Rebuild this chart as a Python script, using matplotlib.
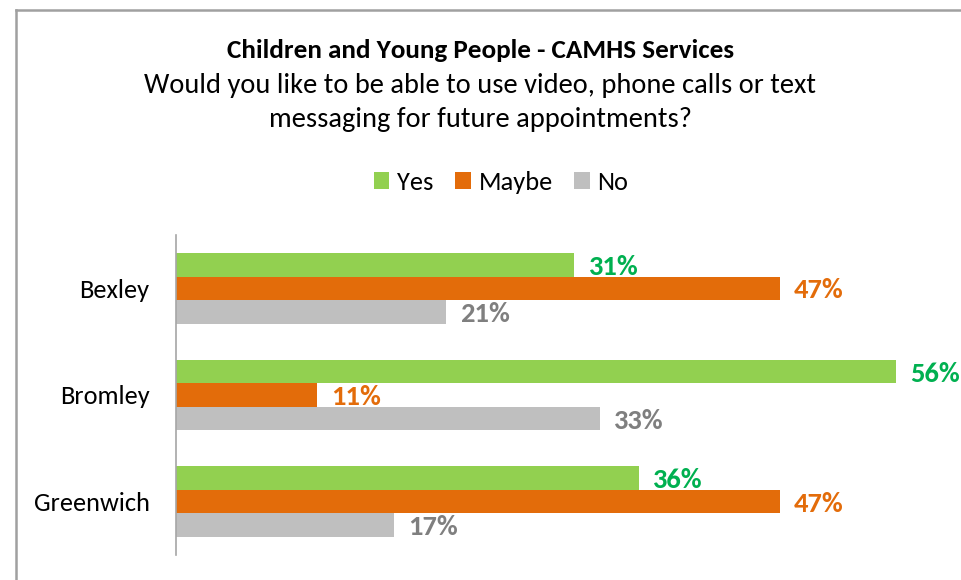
import matplotlib
import matplotlib.pyplot as plt
import numpy as np
from matplotlib.lines import Line2D

matplotlib.use("Agg")

# Chart data
areas = ["Bexley", "Bromley", "Greenwich"]
yes_vals = [0.31, 0.56, 0.36]
maybe_vals = [0.47, 0.11, 0.47]
no_vals = [0.21, 0.33, 0.17]

series_names = ["Yes", "Maybe", "No"]
bar_colours = ["#92d050", "#e36c0a", "#bfbfbf"]
label_colours = ["#00b050", "#e36c0a", "#7f7f7f"]

plt.rcParams["font.family"] = ["Carlito", "Lato", "DejaVu Sans"]

fig = plt.figure(figsize=(9.61, 5.8), dpi=100)
ax = fig.add_axes([176 / 961, 25 / 580, (947 - 176) / 961, 320 / 580])

# Frame around the chart area (top and left edge visible)
fig.add_artist(Line2D([16 / 961, 16 / 961], [0, 1 - 10 / 580],
                      transform=fig.transFigure, color="#a0a0a0", lw=1.8))
fig.add_artist(Line2D([16 / 961, 1], [1 - 10 / 580, 1 - 10 / 580],
                      transform=fig.transFigure, color="#a0a0a0", lw=1.8))

# Titles
fig.text(0.5, 1 - 50 / 580, "Children and Young People - CAMHS Services",
         ha="center", va="center", fontsize=19.5, fontweight="bold")
fig.text(0.5, 1 - 85 / 580, "Would you like to be able to use video, phone calls or text",
         ha="center", va="center", fontsize=20.5)
fig.text(0.5, 1 - 119 / 580, "messaging for future appointments?",
         ha="center", va="center", fontsize=20.5)

# Horizontal grouped bars, first category at the top
y = np.arange(len(areas))[::-1].astype(float)
bar_h = 0.22
all_vals = [yes_vals, maybe_vals, no_vals]
for i, vals in enumerate(all_vals):
    pos = y + (1 - i) * bar_h
    ax.barh(pos, vals, height=bar_h, color=bar_colours[i],
            label=series_names[i])
    for p, v in zip(pos, vals):
        ax.text(v + 0.011, p - 0.02, f"{v * 100:.0f}%", ha="left", va="center",
                fontsize=20.5, fontweight="bold", color=label_colours[i])

ax.set_xlim(0, 0.6)
ax.set_ylim(-0.5, 2.5)
ax.set_yticks(y)
ax.set_yticklabels(areas, fontsize=19)
ax.tick_params(axis="y", length=0, pad=19)
ax.set_xticks([])

for side in ["top", "right", "bottom"]:
    ax.spines[side].set_visible(False)
ax.spines["left"].set_color("#a6a6a6")
ax.spines["left"].set_linewidth(1.2)

fig.legend(loc="center", bbox_to_anchor=(501 / 961, 1 - 182 / 580), ncol=3,
           frameon=False, fontsize=19, handlelength=0.6, handleheight=0.6,
           handletextpad=0.3, columnspacing=0.8)

fig.savefig("out.png", dpi=100)
